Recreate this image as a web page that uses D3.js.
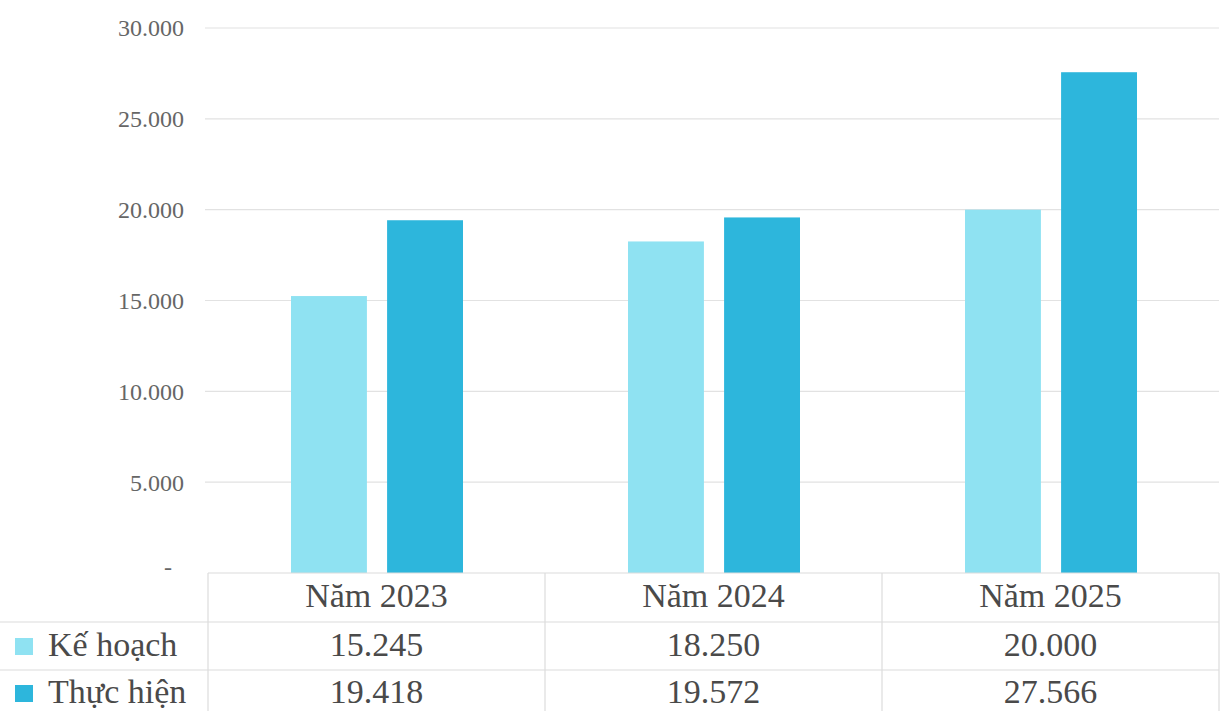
<!DOCTYPE html>
<html>
<head>
<meta charset="utf-8">
<script src="https://cdn.jsdelivr.net/npm/d3@7"></script>
<style>
  html, body { margin: 0; padding: 0; background: #fff; }
  svg { display: block; }
  text { font-family: "Liberation Serif", "Times New Roman", Times, "DejaVu Serif", serif; }
</style>
</head>
<body>
<svg id="chart" width="1223" height="711"></svg>
<script>
const categories = ["Năm 2023", "Năm 2024", "Năm 2025"];
const seriesNames = ["Kế hoạch", "Thực hiện"];
const keHoach = [15245, 18250, 20000];
const thucHien = [19418, 19572, 27566];
const yTicks = [0, 5000, 10000, 15000, 20000, 25000, 30000];
const colors = ["#8fe2f2", "#2db6dc"];

const W = 1223, H = 711;
const plotLeft = 208, plotRight = 1219, plotTop = 28, plotBottom = 573;
const rowH1 = 622, rowH2 = 670;

const svg = d3.select("#chart");
const series = [keHoach, thucHien];

const x = d3.scaleBand().domain(categories).range([plotLeft, plotRight]).padding(0);
const xInner = d3.scaleBand().domain(seriesNames).range([83, 255]).paddingInner(0.21);
const y = d3.scaleLinear().domain([0, 30000]).range([plotBottom, plotTop]);

const fmt = v => v === 0 ? "-" : d3.format(",")(v).replace(/,/g, ".");

// gridlines
svg.append("g").selectAll("line").data(yTicks.filter(t => t > 0)).join("line")
  .attr("x1", plotLeft - 3).attr("x2", plotRight)
  .attr("y1", d => y(d)).attr("y2", d => y(d))
  .attr("stroke", "#e2e2e2").attr("stroke-width", 1.2);

// y labels
svg.append("g").selectAll("text").data(yTicks).join("text")
  .attr("x", d => d === 0 ? 168 : 184)
  .attr("y", d => y(d) - (d === 0 ? 6 : 0))
  .attr("dy", "0.35em")
  .attr("text-anchor", d => d === 0 ? "middle" : "end")
  .attr("font-size", 24)
  .attr("fill", "#666")
  .text(fmt);

// bars
const groups = svg.append("g").selectAll("g").data(categories).join("g")
  .attr("transform", d => `translate(${x(d)},0)`);
groups.selectAll("rect")
  .data((c, i) => seriesNames.map((s, j) => ({ s, j, v: series[j][i] })))
  .join("rect")
  .attr("x", d => xInner(d.s))
  .attr("width", xInner.bandwidth())
  .attr("y", d => y(d.v))
  .attr("height", d => y(0) - y(d.v))
  .attr("fill", d => colors[d.j]);

// table lines
const tbl = svg.append("g").attr("stroke", "#dcdcdc").attr("stroke-width", 1.2);
tbl.append("line").attr("x1", plotLeft).attr("x2", plotRight).attr("y1", plotBottom).attr("y2", plotBottom);
[rowH1, rowH2].forEach(yy => tbl.append("line").attr("x1", 0).attr("x2", plotRight).attr("y1", yy).attr("y2", yy));
const vlines = categories.map(c => x(c)).concat([x(categories[categories.length - 1]) + x.bandwidth()]);
tbl.selectAll(".v").data(vlines).join("line")
  .attr("x1", d => d).attr("x2", d => d).attr("y1", plotBottom).attr("y2", H);

// header row
svg.append("g").selectAll("text").data(categories).join("text")
  .attr("x", d => x(d) + x.bandwidth() / 2)
  .attr("y", 607)
  .attr("text-anchor", "middle")
  .attr("font-size", 34).attr("fill", "#4a4a4a")
  .text(d => d);

// data rows
const rowBase = [656, 703];
series.forEach((vals, j) => {
  const g = svg.append("g");
  g.append("rect").attr("x", 15).attr("y", rowBase[j] - 18).attr("width", 18).attr("height", 17)
    .attr("fill", colors[j]);
  g.append("text").attr("x", 48).attr("y", rowBase[j])
    .attr("font-size", 34).attr("fill", "#4a4a4a")
    .text(seriesNames[j]);
  g.selectAll(".val").data(vals).join("text")
    .attr("x", (d, i) => x(categories[i]) + x.bandwidth() / 2)
    .attr("y", rowBase[j])
    .attr("text-anchor", "middle")
    .attr("font-size", 34).attr("fill", "#4a4a4a")
    .text(fmt);
});
</script>
</body>
</html>
